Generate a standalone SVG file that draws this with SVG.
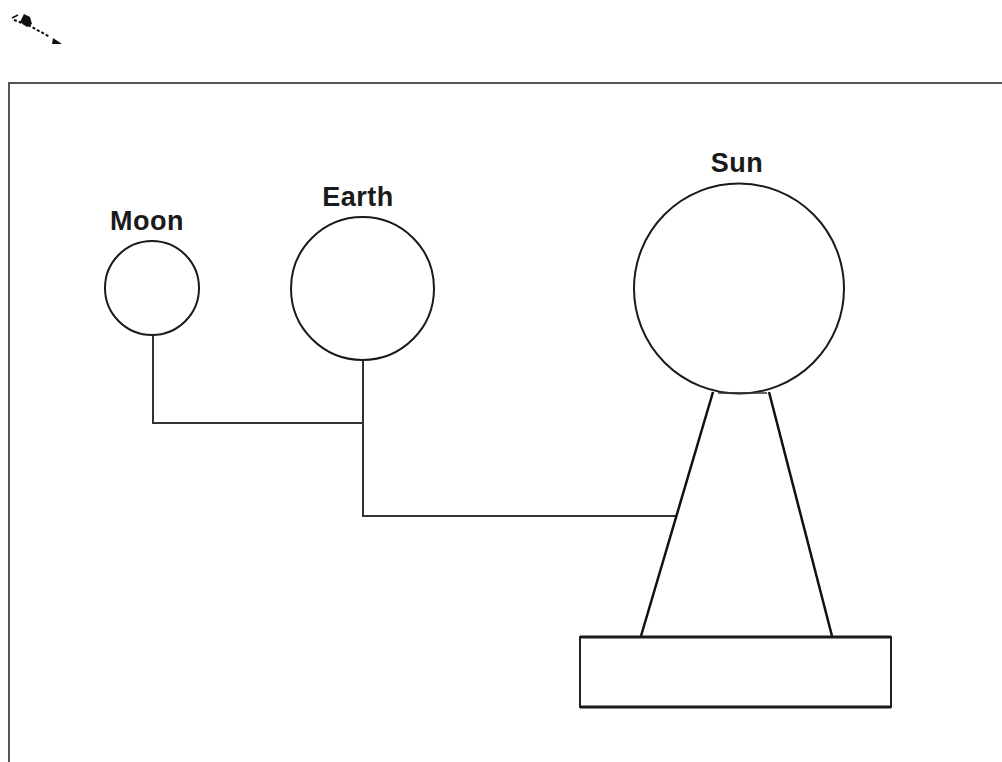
<svg xmlns="http://www.w3.org/2000/svg" width="1002" height="762" viewBox="0 0 1002 762">
<style>
.body{fill:#fff;stroke:#1a1a1a;stroke-width:2}
.lbl{font-family:"Liberation Sans",Arial,sans-serif;font-weight:bold;font-size:27px;fill:#1a1a1a;text-anchor:middle;letter-spacing:0.5px}
.conn{fill:none;stroke:#333;stroke-width:2}
.leg{fill:none;stroke:#111;stroke-width:2.5}
</style>
<rect width="1002" height="762" fill="#fff"/>
<g id="icon">
<path d="M12,18 L18,15" stroke="#111" stroke-width="1.5" fill="none"/>
<path d="M14,20 L30,26 L50,37" stroke="#111" stroke-width="2" stroke-dasharray="3 2" fill="none"/>
<path d="M20,22 L24,14 L30,17 L32,24 L27,27 Z" fill="#111"/>
<path d="M53,38 L62,44 L52,44 Z" fill="#111"/>
</g>
<path id="frame" d="M9,770 L9,83 L1010,83" fill="none" stroke="#555" stroke-width="2"/>
<g id="connectors">
<path class="conn" d="M153,335 L153,423 L363,423"/>
<path class="conn" d="M363,360 L363,516 L676,516"/>
</g>
<g id="moon">
<circle class="body" cx="152" cy="288" r="47"/>
<text class="lbl" x="147" y="230">Moon</text>
</g>
<g id="earth">
<circle class="body" cx="362.5" cy="288.5" r="71.5"/>
<text class="lbl" x="358" y="206">Earth</text>
</g>
<g id="sun">
<circle class="body" cx="739" cy="288.5" r="105"/>
<text class="lbl" x="737" y="172">Sun</text>
</g>
<g id="stand">
<path d="M718,393 L767,393" stroke="#333" stroke-width="1.5"/>
<path class="leg" d="M713,392 L641,636"/>
<path class="leg" d="M769,392 L832,636"/>
<rect x="580" y="637" width="311" height="70" fill="#fff" stroke="#222" stroke-width="2"/>
<path d="M580,637 L891,637 M580,707 L891,707" stroke="#1a1a1a" stroke-width="3"/>
</g>
</svg>
